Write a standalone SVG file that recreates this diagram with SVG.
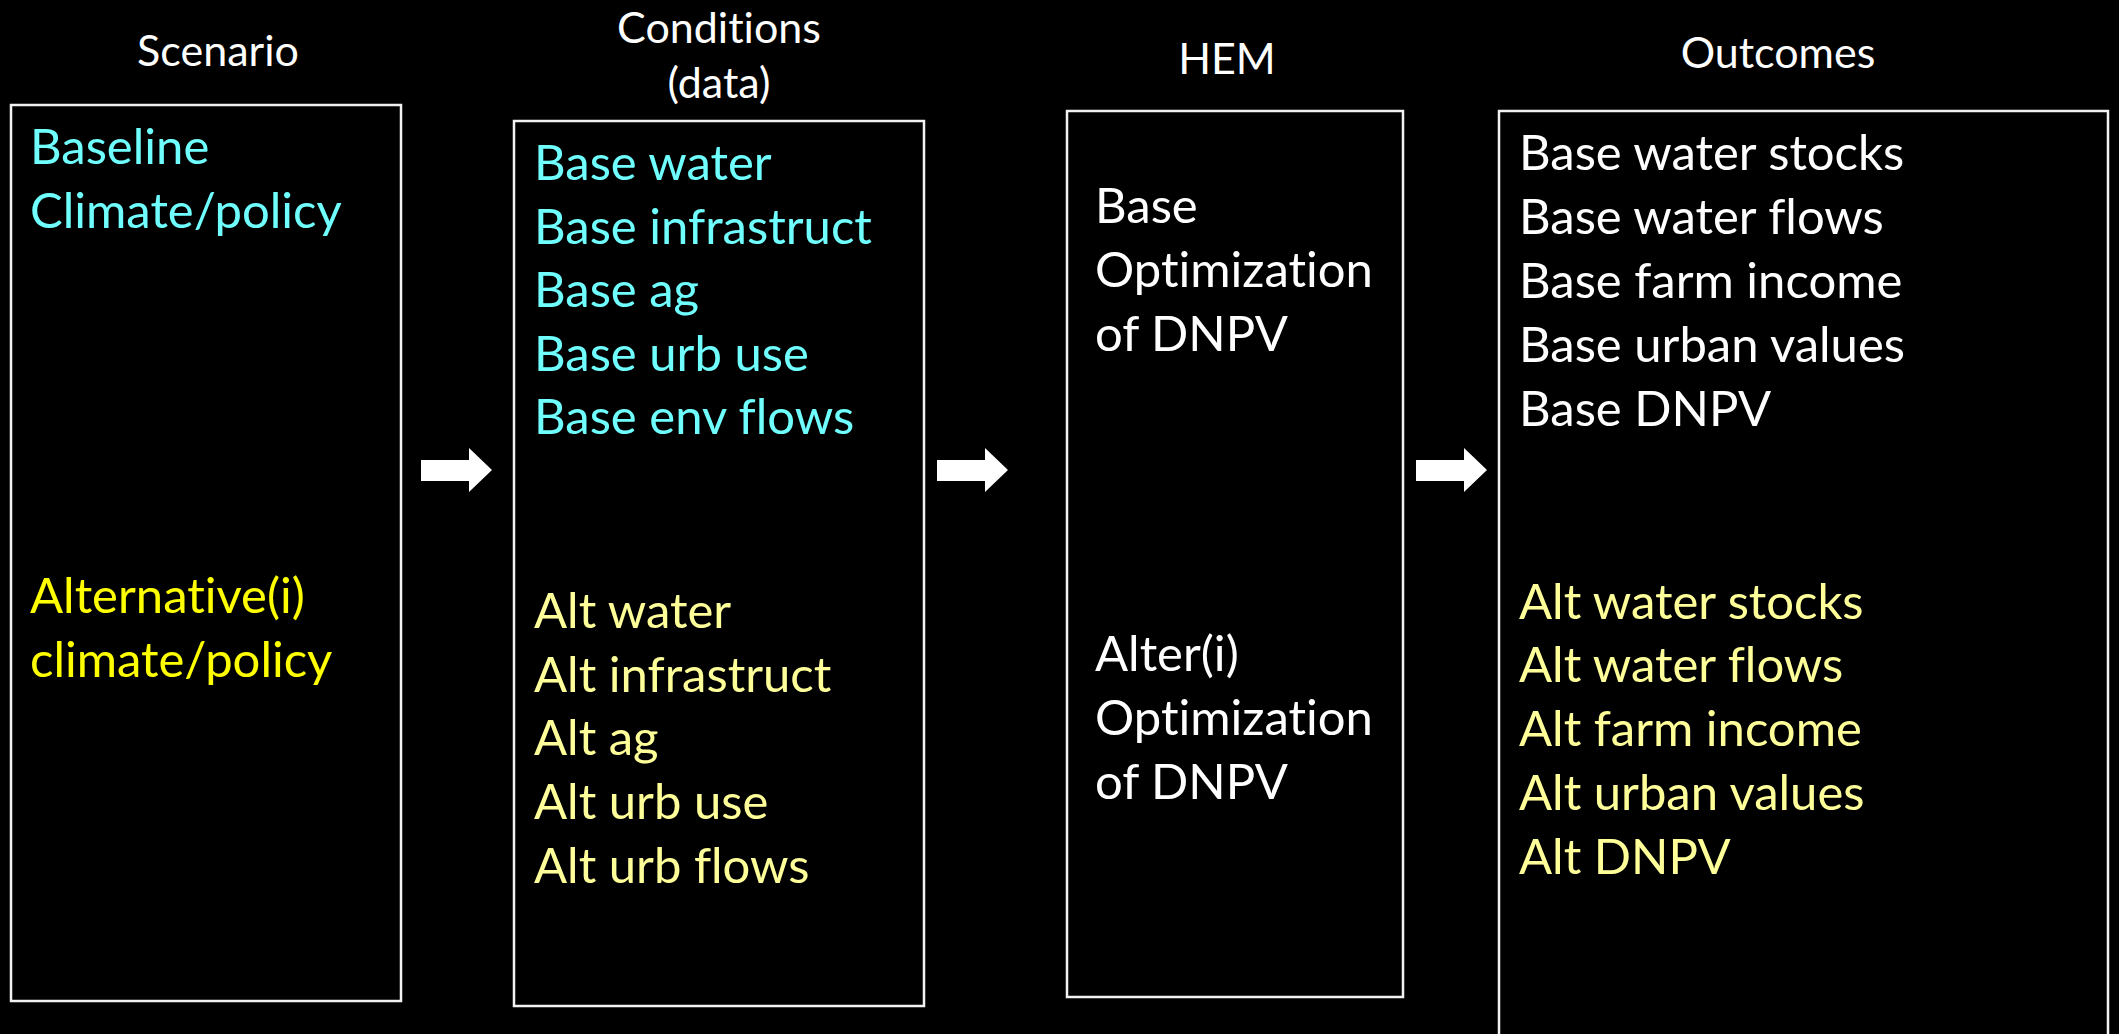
<svg xmlns="http://www.w3.org/2000/svg" width="2119" height="1034" viewBox="0 0 2119 1034">
  <defs>
    <style>
      text { font-variant-ligatures: none; font-feature-settings: "liga" 0, "clig" 0; }
      .box { fill: #000; stroke: #F2F2F2; stroke-width: 2.5; }
      .title { font-family: Lato, "Liberation Sans", sans-serif; font-size: 43px; fill: #FFFFFF; text-anchor: middle; }
      .body { font-family: Lato, "Liberation Sans", sans-serif; font-size: 49px; }
      .white { fill: #FFFFFF; }
      .cyan { fill: #70FFFF; }
      .yellow { fill: #FFFF00; }
      .pale { fill: #FFFF99; }
      .arrow { fill: #FFFFFF; }
    </style>
  </defs>

  <rect x="0" y="0" width="2119" height="1034" fill="#000000"/>

  <!-- Column headings -->
  <g id="headings">
    <text class="title" x="218" y="66">Scenario</text>
    <text class="title" x="719" y="43">Conditions</text>
    <text class="title" x="719" y="98">(data)</text>
    <text class="title" x="1227" y="74">HEM</text>
    <text class="title" x="1778" y="68">Outcomes</text>
  </g>

  <!-- Scenario column -->
  <g id="scenario">
    <rect class="box" x="11" y="105" width="390" height="896"/>
    <text class="body cyan" x="30" y="164">Baseline</text>
    <text class="body cyan" x="30" y="228">Climate/policy</text>
    <text class="body yellow" x="30" y="613">Alternative(i)</text>
    <text class="body yellow" x="30" y="677">climate/policy</text>
  </g>

  <!-- Conditions (data) column -->
  <g id="conditions">
    <rect class="box" x="514" y="121" width="410" height="885"/>
    <text class="body cyan" x="534" y="180">Base water</text>
    <text class="body cyan" x="534" y="243.5">Base infrastruct</text>
    <text class="body cyan" x="534" y="307">Base ag</text>
    <text class="body cyan" x="534" y="370.5">Base urb use</text>
    <text class="body cyan" x="534" y="434">Base env flows</text>
    <text class="body pale" x="534" y="628">Alt water</text>
    <text class="body pale" x="534" y="691.5">Alt infrastruct</text>
    <text class="body pale" x="534" y="755">Alt ag</text>
    <text class="body pale" x="534" y="819">Alt urb use</text>
    <text class="body pale" x="534" y="883">Alt urb flows</text>
  </g>

  <!-- HEM optimisation column -->
  <g id="hem">
    <rect class="box" x="1067" y="111" width="336" height="886"/>
    <text class="body white" x="1095" y="222.5">Base</text>
    <text class="body white" x="1095" y="286.5">Optimization</text>
    <text class="body white" x="1095" y="350.5">of DNPV</text>
    <text class="body white" x="1095" y="671">Alter(i)</text>
    <text class="body white" x="1095" y="735">Optimization</text>
    <text class="body white" x="1095" y="799">of DNPV</text>
  </g>

  <!-- Outcomes column (box runs past the lower edge) -->
  <g id="outcomes">
    <rect class="box" x="1499" y="111" width="609" height="1000"/>
    <text class="body white" x="1519" y="169.5">Base water stocks</text>
    <text class="body white" x="1519" y="233.5">Base water flows</text>
    <text class="body white" x="1519" y="297.5">Base farm income</text>
    <text class="body white" x="1519" y="361.5">Base urban values</text>
    <text class="body white" x="1519" y="425.5">Base DNPV</text>
    <text class="body pale" x="1519" y="618.5">Alt water stocks</text>
    <text class="body pale" x="1519" y="682">Alt water flows</text>
    <text class="body pale" x="1519" y="745.5">Alt farm income</text>
    <text class="body pale" x="1519" y="809.5">Alt urban values</text>
    <text class="body pale" x="1519" y="873.5">Alt DNPV</text>
  </g>

  <!-- Block arrows between columns -->
  <g id="connectors">
    <polygon class="arrow" points="421,460 469,460 469,448 492,470 469,492 469,481 421,481"/>
    <polygon class="arrow" points="937,460 985,460 985,448 1008,470 985,492 985,481 937,481"/>
    <polygon class="arrow" points="1416,460 1464,460 1464,448 1487,470 1464,492 1464,481 1416,481"/>
  </g>
</svg>
